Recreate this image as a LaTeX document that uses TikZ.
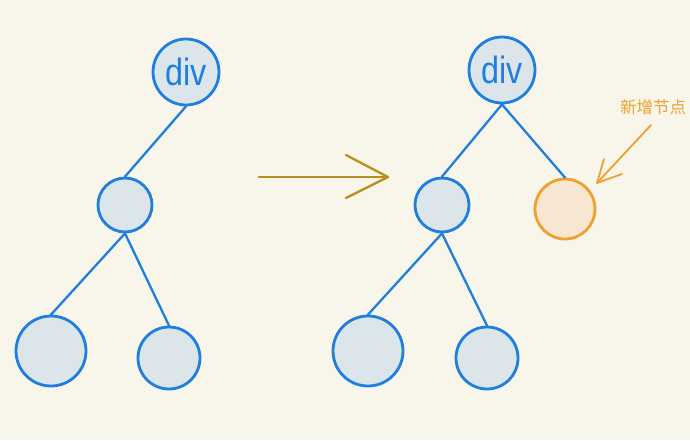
\documentclass[tikz,border=0pt]{standalone}
\usepackage{fontspec}
\setsansfont{Liberation Sans}
\newfontfamily\cjk{Noto Sans CJK SC}
\definecolor{bg}{HTML}{F8F6EA}
\definecolor{nodeblue}{HTML}{1E7FE0}
\definecolor{nodefill}{HTML}{DCE5EA}
\definecolor{neworange}{HTML}{F0A030}
\definecolor{newfill}{HTML}{F6E6D2}
\definecolor{arrowgold}{HTML}{B8901E}
\tikzset{
  treenode/.style={circle, draw=nodeblue, fill=nodefill, line width=2.8pt, inner sep=0pt},
  newnode/.style={circle, draw=neworange, fill=newfill, line width=2.8pt, inner sep=0pt},
  edge/.style={draw=nodeblue, line width=2.3pt, line cap=round},
  divtext/.style={text=nodeblue, font=\sffamily\fontsize{38}{38}\selectfont},
  bigarrow/.style={draw=arrowgold, line width=2.3pt, line cap=round, line join=round},
  notearrow/.style={draw=neworange, line width=1.8pt, line cap=round, line join=round}
}
\begin{document}
\begin{tikzpicture}[x=1pt,y=-1pt]
\fill[bg] (0,0) rectangle (690,440);
\useasboundingbox (0,0) rectangle (690,440);
% left tree
\node[treenode, minimum size=66pt] (ldiv) at (186,72) {};
\node[divtext, xscale=0.85] (ldivlabel) at (ldiv.center) {div};
\node[treenode, minimum size=54pt] (lmid) at (125,205) {};
\node[treenode, minimum size=70pt] (lbl) at (51,351) {};
\node[treenode, minimum size=62pt] (lbr) at (169,358) {};
\draw[edge] (ldiv.south) -- (lmid.north);
\draw[edge] (lmid.south) -- (lbl.north);
\draw[edge] (lmid.south) -- (lbr.north);
% transition arrow
\coordinate (as) at (259,177);
\coordinate (at) at (388,177);
\coordinate (aw1) at (346,155);
\coordinate (aw2) at (346,198);
\draw[bigarrow] (as) -- (at);
\draw[bigarrow] (aw1) -- (at) -- (aw2);
% right tree
\node[treenode, minimum size=66pt] (rdiv) at (502,70) {};
\node[divtext, xscale=0.85] (rdivlabel) at (rdiv.center) {div};
\node[treenode, minimum size=54pt] (rmid) at (442,205) {};
\node[treenode, minimum size=70pt] (rbl) at (368,351) {};
\node[treenode, minimum size=62pt] (rbr) at (487,358) {};
\node[newnode, minimum size=60pt] (rnew) at (565,209) {};
\draw[edge] (rdiv.south) -- (rmid.north);
\draw[edge] (rdiv.south) -- (rnew.north);
\draw[edge] (rmid.south) -- (rbl.north);
\draw[edge] (rmid.south) -- (rbr.north);
% annotation
\node[text=neworange, font=\cjk\fontsize{16.5}{16.5}\selectfont] (note) at (653,107) {新增节点};
\coordinate (ns) at (651,125);
\coordinate (nt) at (597,183);
\coordinate (nw1) at (604,159);
\coordinate (nw2) at (622,174);
\draw[notearrow] (ns) -- (nt);
\draw[notearrow] (nw1) -- (nt) -- (nw2);
\end{tikzpicture}
\end{document}
